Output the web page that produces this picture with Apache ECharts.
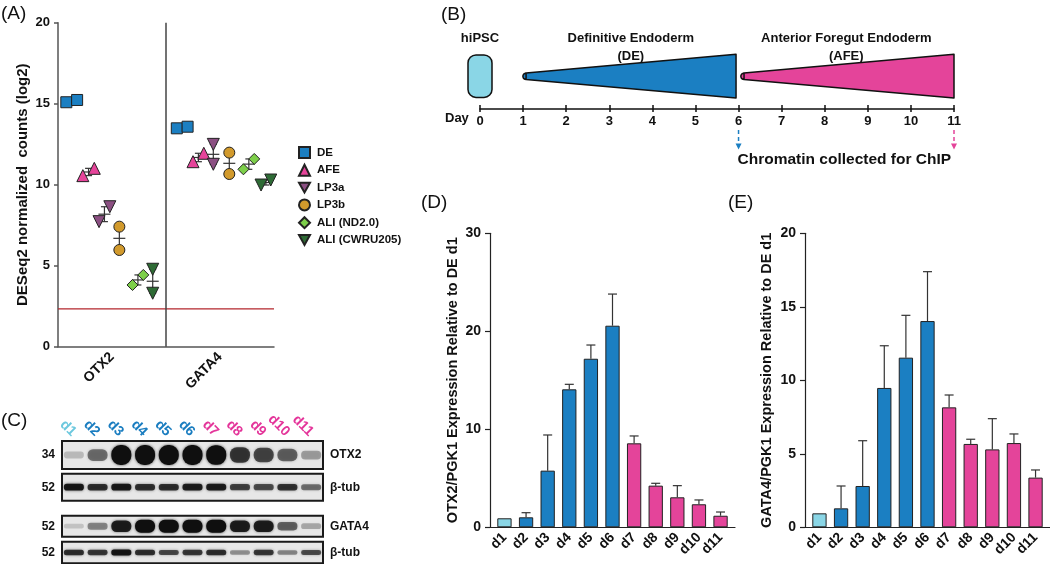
<!DOCTYPE html>
<html><head><meta charset="utf-8">
<script src="https://cdn.jsdelivr.net/npm/echarts@6/dist/echarts.min.js"></script>
<style>html,body{margin:0;padding:0;background:#fff}#c{width:1050px;height:564px}</style>
</head><body><div id="c"></div>
<script>
// ---------- Panel A data ----------
const groups = ['DE', 'AFE', 'LP3a', 'LP3b', 'ALI (ND2.0)', 'ALI (CWRU205)'];
const genes = ['OTX2', 'GATA4'];
const otx2Reps = [[15.09, 15.23], [10.56, 11.01], [7.72, 8.64], [5.97, 7.41], [3.81, 4.43], [3.30, 4.78]];
const gata4Reps = [[13.48, 13.58], [11.42, 11.94], [11.26, 12.49], [10.66, 11.98], [10.95, 11.59], [9.98, 10.29]];
const detectionThreshold = 2.33;

// ---------- Panel B data ----------
const timelineDays = [0, 1, 2, 3, 4, 5, 6, 7, 8, 9, 10, 11];
const stageNames = ['hiPSC', 'Definitive Endoderm\n(DE)', 'Anterior Foregut Endoderm\n(AFE)'];
const stageStart = [0, 1, 6];
const stageEnd = [0, 6, 11];
const chipDays = [6, 11];
const chipLabel = 'Chromatin collected for ChIP';

// ---------- Panel C data ----------
const lanes = ['d1', 'd2', 'd3', 'd4', 'd5', 'd6', 'd7', 'd8', 'd9', 'd10', 'd11'];
const blotMW = ['34', '52', '52', '52'];
const blotTargets = ['OTX2', 'β-tub', 'GATA4', 'β-tub'];
const otx2Band = [0.12, 0.45, 1, 1, 1, 1, 0.97, 0.7, 0.62, 0.5, 0.25];
const tub1Band = [0.9, 0.75, 0.88, 0.75, 0.75, 0.85, 0.85, 0.65, 0.6, 0.72, 0.45];
const gata4Band = [0.08, 0.35, 0.85, 1, 1, 1, 1, 0.85, 0.85, 0.5, 0.2];
const tub2Band = [0.75, 0.7, 0.92, 0.75, 0.62, 0.7, 0.75, 0.3, 0.7, 0.35, 0.6];

// ---------- Panel D / E data ----------
const days = ['d1', 'd2', 'd3', 'd4', 'd5', 'd6', 'd7', 'd8', 'd9', 'd10', 'd11'];
const dayStage = ['hiPSC', 'DE', 'DE', 'DE', 'DE', 'DE', 'AFE', 'AFE', 'AFE', 'AFE', 'AFE'];
const otx2Mean = [0.92, 1.02, 5.78, 14.08, 17.2, 20.57, 8.57, 4.25, 3.06, 2.35, 1.18];
const otx2Sem = [0, 0.47, 3.64, 0.51, 1.4, 3.23, 0.75, 0.24, 1.19, 0.44, 0.38];
const gata4Mean = [0.95, 1.29, 2.81, 9.48, 11.54, 14.03, 8.16, 5.67, 5.30, 5.73, 3.38];
const gata4Sem = [0, 1.52, 3.08, 2.87, 2.88, 3.36, 0.84, 0.32, 2.09, 0.62, 0.52];

// ---------- styles / layout ----------
const FONT = 'Liberation Sans, Arial, sans-serif';
const INK = '#111';
const stageColor = { hiPSC: '#8ad6e6', DE: '#1b7fc2', AFE: '#e4449a' };
const laneColor = { hiPSC: '#6cc8de', DE: '#1a7dc0', AFE: '#e4359a' };
const groupColor = ['#1b7fc2', '#e6449a', '#8b4f82', '#d29a2c', '#7dcf4a', '#2e6b35'];
const downTri = 'path://M0,0 L10,0 L5,9 Z';
const groupSymbol = ['rect', 'triangle', downTri, 'circle', 'diamond', downTri];
const groupSize = [11, 12, 12, 11, 11, 12];
const xOff = [[0.127, 0.283, 0.43, 0.568, 0.74, 0.877], [0.15, 0.30, 0.438, 0.586, 0.767, 0.925]];
const spread = [[0.05, 0.053, 0.05, 0, 0.05, 0], [0.05, 0.05, 0, 0, 0.05, 0.045]];
const repsByGene = [otx2Reps, gata4Reps];

const chart = echarts.init(document.getElementById('c'));

// Panel A scatter series
const aSeries = groups.map((g, k) => {
  const data = [];
  genes.forEach((gene, gi) => {
    const r = repsByGene[gi][k].slice().sort((a, b) => a - b);
    data.push([gi + xOff[gi][k] - spread[gi][k], r[0]]);
    data.push([gi + xOff[gi][k] + spread[gi][k], r[1]]);
  });
  return {
    name: g, type: 'scatter', xAxisIndex: 1, yAxisIndex: 0, data,
    symbol: groupSymbol[k], symbolSize: groupSize[k],
    itemStyle: { color: groupColor[k], borderColor: '#222', borderWidth: 1, opacity: 1 },
    z: 5
  };
});
aSeries[0].markLine = {
  symbol: 'none', silent: true, label: { show: false }, animation: false,
  lineStyle: { color: '#444', width: 1.5, type: 'solid' },
  data: [{ xAxis: 1 }]
};

const aThreshold = {
  type: 'custom', xAxisIndex: 1, yAxisIndex: 0, z: 2, silent: true,
  data: [[0, detectionThreshold]],
  renderItem(params, api) {
    const t = api.value(1);
    const a = api.coord([0, t]), b = api.coord([2, t]);
    return { type: 'line', shape: { x1: a[0], y1: a[1], x2: b[0], y2: b[1] },
      style: { stroke: '#b3262c', lineWidth: 1.2 } };
  }
};

const meanData = [];
genes.forEach((gene, gi) => groups.forEach((g, k) => meanData.push([gi, k])));
const aMean = {
  type: 'custom', xAxisIndex: 1, yAxisIndex: 0, data: meanData, z: 3,
  renderItem(params, api) {
    const gi = api.value(0), k = api.value(1);
    const r = repsByGene[gi][k];
    const m = (r[0] + r[1]) / 2, s = Math.abs(r[0] - r[1]) / 2;
    const cx = gi + xOff[gi][k];
    const pm = api.coord([cx, m]), pt = api.coord([cx, m + s]), pb = api.coord([cx, m - s]);
    const st = { stroke: '#333', lineWidth: 1.2 };
    return { type: 'group', children: [
      { type: 'line', shape: { x1: pm[0] - 6, y1: pm[1], x2: pm[0] + 6, y2: pm[1] }, style: st },
      { type: 'line', shape: { x1: pt[0], y1: pt[1], x2: pb[0], y2: pb[1] }, style: st },
      { type: 'line', shape: { x1: pt[0] - 3.5, y1: pt[1], x2: pt[0] + 3.5, y2: pt[1] }, style: st },
      { type: 'line', shape: { x1: pb[0] - 3.5, y1: pb[1], x2: pb[0] + 3.5, y2: pb[1] }, style: st }
    ] };
  }
};

// Panel B
function semicirclePts(cx, cy, r) {
  const pts = [];
  for (let a = 90; a <= 270; a += 20) {
    const t = a * Math.PI / 180;
    pts.push([cx + r * Math.cos(t), cy - r * Math.sin(t)]);
  }
  return pts;
}
const bStages = {
  type: 'custom', xAxisIndex: 2, yAxisIndex: 1, clip: false, z: 4,
  data: stageNames.map((n, i) => [stageStart[i], stageEnd[i], i]),
  renderItem(params, api) {
    const i = api.value(2);
    const p0 = api.coord([api.value(0), 0]);
    const p1 = api.coord([api.value(1), 0]);
    const ay = p0[1];
    const children = [];
    const txtStyle = { fill: INK, font: 'bold 13px ' + FONT, align: 'center', verticalAlign: 'middle' };
    if (i === 0) {
      children.push({ type: 'rect', shape: { x: p0[0] - 12, y: ay - 53.6, width: 24, height: 42.5, r: 8 },
        style: { fill: stageColor.hiPSC, stroke: '#111', lineWidth: 1.5 } });
      children.push({ type: 'text', style: Object.assign({ text: 'hiPSC', x: p0[0], y: ay - 70 }, txtStyle) });
    } else {
      const left = i === 1 ? p0[0] + 3 : p0[0] + 5.5;
      const right = i === 1 ? p1[0] - 2.5 : p1[0];
      const cy = ay - 32.2;
      const pts = [[left, cy - 3.2], [right, ay - 54.2], [right, ay - 10.5], [left, cy + 3.2]];
      children.push({ type: 'polygon', shape: { points: pts.concat(semicirclePts(left, cy, 3.2)) },
        style: { fill: i === 1 ? stageColor.DE : stageColor.AFE, stroke: '#111', lineWidth: 1.5, lineJoin: 'round' } });
      const lines = stageNames[i].split('\n');
      const cx = (p0[0] + p1[0]) / 2;
      children.push({ type: 'text', style: Object.assign({ text: lines[0], x: cx, y: ay - 70 }, txtStyle) });
      children.push({ type: 'text', style: Object.assign({ text: lines[1], x: cx, y: ay - 52 }, txtStyle) });
    }
    return { type: 'group', children };
  }
};
const bChip = {
  type: 'custom', xAxisIndex: 2, yAxisIndex: 1, clip: false, z: 4,
  data: chipDays.map((d, i) => [d, i]),
  renderItem(params, api) {
    const i = api.value(1);
    const p = api.coord([api.value(0), 0]);
    const col = i === 0 ? stageColor.DE : stageColor.AFE;
    const children = [
      { type: 'line', shape: { x1: p[0], y1: p[1] + 21.4, x2: p[0], y2: p[1] + 37 }, style: { stroke: col, lineWidth: 1.5, lineDash: [4, 3] } },
      { type: 'polygon', shape: { points: [[p[0] - 3, p[1] + 35], [p[0] + 3, p[1] + 35], [p[0], p[1] + 41]] }, style: { fill: col } }
    ];
    if (i === 0) {
      children.push({ type: 'text', style: { text: chipLabel, x: p[0] - 1, y: p[1] + 51, fill: INK, font: 'bold 15.5px ' + FONT, align: 'left', verticalAlign: 'middle' } });
    }
    return { type: 'group', children };
  }
};

// Panels D/E
function barData(means) {
  return means.map((v, i) => ({ value: v, itemStyle: { color: stageColor[dayStage[i]] } }));
}
function errSeries(means, sems, xi, yi) {
  return {
    type: 'custom', xAxisIndex: xi, yAxisIndex: yi, z: 6,
    data: means.map((m, i) => [i, m, sems[i]]),
    renderItem(params, api) {
      const i = api.value(0), m = api.value(1), e = api.value(2);
      if (!e) return null;
      const p0 = api.coord([i, m]), p1 = api.coord([i, m + e]);
      const st = { stroke: '#333', lineWidth: 1.2 };
      return { type: 'group', children: [
        { type: 'line', shape: { x1: p0[0], y1: p0[1], x2: p1[0], y2: p1[1] }, style: st },
        { type: 'line', shape: { x1: p1[0] - 4.5, y1: p1[1], x2: p1[0] + 4.5, y2: p1[1] }, style: st }
      ] };
    }
  };
}
const barCommon = { type: 'bar', barWidth: 14.3, itemStyle: { borderColor: '#222', borderWidth: 1 }, z: 4 };

// Panel C blot
const blotRows = [otx2Band, tub1Band, gata4Band, tub2Band];
const blotGridTop = [441, 473.7, 515.7, 541.7];
const blotGridH = [28, 27, 21, 21.6];
const bandBase = [5, 5, 4, 4];
const bandGain = [15, 2, 9, 2];
function blotSeries(row) {
  return {
    type: 'custom', xAxisIndex: 8 + row, yAxisIndex: 6 + row, z: 4,
    data: blotRows[row].map((v, i) => [i, 0, v]),
    renderItem(params, api) {
      const v = api.value(2);
      const p = api.coord([api.value(0), 0]);
      const h = bandBase[row] + bandGain[row] * v;
      const w = 20;
      const a = Math.min(1, 0.08 + 0.95 * v);
      return { type: 'rect', shape: { x: p[0] - w / 2, y: p[1] - h / 2, width: w, height: h, r: h / 2.2 },
        style: { fill: 'rgba(15,15,15,' + a + ')', shadowBlur: 3, shadowColor: 'rgba(0,0,0,' + (a * 0.7) + ')' } };
    }
  };
}

const boldLbl = (size) => ({ fontFamily: FONT, fontWeight: 'bold', fontSize: size, color: INK });

const grids = [
  { left: 58, top: 22.7, width: 216, height: 324 },
  { left: 480, top: 30.8, width: 474, height: 77.7 },
  { left: 490, top: 233.3, width: 245, height: 294 },
  { left: 493.65, top: 233.3, width: 237.7, height: 294 },
  { left: 805, top: 233.3, width: 245, height: 294 },
  { left: 808.65, top: 233.3, width: 237.7, height: 294 }
];
blotGridTop.forEach((t, r) => grids.push({ left: 62, top: t, width: 261, height: blotGridH[r], show: true,
  backgroundColor: '#e7e7e7', borderColor: '#1a1a1a', borderWidth: 2 }));

const xAxes = [
  { type: 'category', gridIndex: 0, data: genes, boundaryGap: true,
    axisLine: { lineStyle: { color: '#555', width: 1.5 } },
    axisTick: { alignWithLabel: true, length: 4, lineStyle: { color: '#555', width: 1.5 } },
    axisLabel: Object.assign({ rotate: 45, margin: 8, interval: 0 }, boldLbl(14)), splitLine: { show: false } },
  { type: 'value', gridIndex: 0, min: 0, max: 2, show: false },
  { type: 'value', gridIndex: 1, min: 0, max: 11, interval: 1, position: 'bottom',
    axisLine: { lineStyle: { color: '#111', width: 1.5 } },
    axisTick: { length: 3.5, lineStyle: { color: '#111', width: 1.5 } },
    axisLabel: Object.assign({ margin: 6 }, boldLbl(13)), splitLine: { show: false } },
  { type: 'value', gridIndex: 1, min: 0, max: 11, interval: 1, position: 'bottom',
    axisLine: { show: false }, axisTick: { inside: true, length: 3.5, lineStyle: { color: '#111', width: 1.5 } },
    axisLabel: { show: false }, splitLine: { show: false } },
  { type: 'value', gridIndex: 2, min: 0, max: 1, axisLine: { lineStyle: { color: '#222', width: 1.2 } },
    axisTick: { show: false }, axisLabel: { show: false }, splitLine: { show: false } },
  { type: 'category', gridIndex: 3, data: days, boundaryGap: true, axisLine: { show: false },
    axisTick: { alignWithLabel: true, interval: 0, length: 5, lineStyle: { color: '#222', width: 1.2 } },
    axisLabel: Object.assign({ rotate: 45, margin: 8, interval: 0 }, boldLbl(14)) },
  { type: 'value', gridIndex: 4, min: 0, max: 1, axisLine: { lineStyle: { color: '#222', width: 1.2 } },
    axisTick: { show: false }, axisLabel: { show: false }, splitLine: { show: false } },
  { type: 'category', gridIndex: 5, data: days, boundaryGap: true, axisLine: { show: false },
    axisTick: { alignWithLabel: true, interval: 0, length: 5, lineStyle: { color: '#222', width: 1.2 } },
    axisLabel: Object.assign({ rotate: 45, margin: 8, interval: 0 }, boldLbl(14)) }
];
blotRows.forEach((row, r) => {
  xAxes.push({ type: 'category', gridIndex: 6 + r, position: 'top', boundaryGap: true,
    data: lanes.map((l, i) => ({ value: l, textStyle: { color: laneColor[dayStage[i]] } })),
    axisLine: { show: false }, axisTick: { show: false },
    axisLabel: r === 0 ? { show: true, interval: 0, rotate: 45, margin: 7, fontFamily: FONT, fontWeight: 'bold', fontSize: 14 } : { show: false } });
});

const yAxes = [
  { type: 'value', gridIndex: 0, min: 0, max: 20, interval: 5,
    axisLine: { show: true, lineStyle: { color: '#555', width: 1.5 } },
    axisTick: { show: true, length: 4, lineStyle: { color: '#555', width: 1.5 } },
    axisLabel: Object.assign({ margin: 8 }, boldLbl(13)), splitLine: { show: false },
    name: 'DESeq2 normalized  counts (log2)', nameLocation: 'middle', nameGap: 28,
    nameTextStyle: boldLbl(15) },
  { type: 'value', gridIndex: 1, min: 0, max: 1, show: false },
  { type: 'value', gridIndex: 2, min: 0, max: 30, interval: 10,
    axisLine: { show: true, lineStyle: { color: '#222', width: 1.2 } },
    axisTick: { show: true, length: 5, lineStyle: { color: '#222', width: 1.2 } },
    axisLabel: Object.assign({ margin: 9 }, boldLbl(14)), splitLine: { show: false },
    name: 'OTX2/PGK1 Expression Relative to DE d1', nameLocation: 'middle', nameGap: 30,
    nameTextStyle: boldLbl(14.5) },
  { type: 'value', gridIndex: 3, min: 0, max: 30, show: false },
  { type: 'value', gridIndex: 4, min: 0, max: 20, interval: 5,
    axisLine: { show: true, lineStyle: { color: '#222', width: 1.2 } },
    axisTick: { show: true, length: 5, lineStyle: { color: '#222', width: 1.2 } },
    axisLabel: Object.assign({ margin: 9 }, boldLbl(14)), splitLine: { show: false },
    name: 'GATA4/PGK1 Expression Relative to DE d1', nameLocation: 'middle', nameGap: 31,
    nameTextStyle: boldLbl(14.5) },
  { type: 'value', gridIndex: 5, min: 0, max: 20, show: false }
];
blotRows.forEach((row, r) => yAxes.push({ type: 'category', gridIndex: 6 + r, position: 'left', data: [blotMW[r]],
  axisLine: { show: false }, axisTick: { show: false }, axisLabel: Object.assign({ margin: 7 }, boldLbl(12)) }));
blotRows.forEach((row, r) => yAxes.push({ type: 'category', gridIndex: 6 + r, position: 'right', data: [blotTargets[r]],
  axisLine: { show: false }, axisTick: { show: false }, axisLabel: Object.assign({ margin: 7 }, boldLbl(12)) }));

const panelLabel = (t, x, y) => ({ type: 'text', left: x, top: y, style: { text: t, font: '19px ' + FONT, fill: INK } });

const option = {
  animation: false,
  backgroundColor: '#fff',
  textStyle: { fontFamily: FONT },
  grid: grids,
  xAxis: xAxes,
  yAxis: yAxes,
  legend: {
    data: groups.map((g, k) => ({ name: g, icon: groupSymbol[k] })),
    orient: 'vertical', left: 293, top: 141, itemWidth: 11, itemHeight: 11, itemGap: 4.8,
    textStyle: { fontFamily: FONT, fontWeight: 'bold', fontSize: 11.5, color: INK, padding: [0, 0, 0, 2] },
    selectedMode: false
  },
  graphic: [
    panelLabel('(A)', 1, 4), panelLabel('(B)', 441, 5), panelLabel('(C)', 1, 411),
    panelLabel('(D)', 421, 193), panelLabel('(E)', 728, 193),
    { type: 'text', left: 445, top: 112, style: { text: 'Day', font: 'bold 13px ' + FONT, fill: INK } }
  ],
  series: [
    ...aSeries, aThreshold, aMean, bStages, bChip,
    Object.assign({ xAxisIndex: 5, yAxisIndex: 3, data: barData(otx2Mean) }, barCommon),
    errSeries(otx2Mean, otx2Sem, 5, 3),
    Object.assign({ xAxisIndex: 7, yAxisIndex: 5, data: barData(gata4Mean) }, barCommon),
    errSeries(gata4Mean, gata4Sem, 7, 5),
    blotSeries(0), blotSeries(1), blotSeries(2), blotSeries(3)
  ]
};
chart.setOption(option);
</script></body></html>
